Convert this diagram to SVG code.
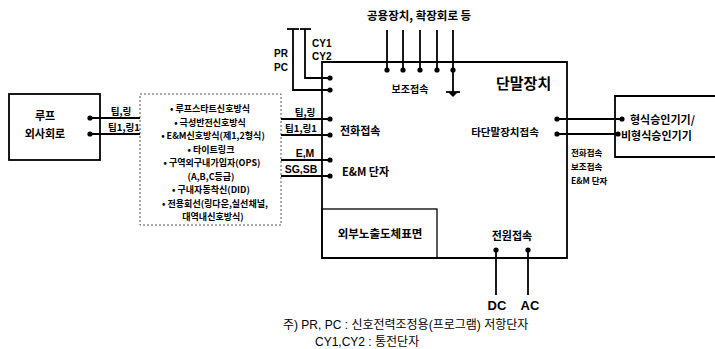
<svg xmlns="http://www.w3.org/2000/svg" width="715" height="349" viewBox="0 0 715 349">
<style>
.bg{fill:#fff}
.ln{fill:none;stroke:#000;stroke-width:1.8}
.thin{fill:none;stroke:#000;stroke-width:1.3}
.dash{fill:none;stroke:#555;stroke-width:1;stroke-dasharray:2 2}
.dot{fill:#000}
text{font-family:"Liberation Sans","Noto Sans CJK KR",sans-serif;fill:#000;dominant-baseline:central}
.k{font-family:"Noto Sans CJK KR","Liberation Sans",sans-serif;font-weight:700}
.b{font-weight:700}
.m{text-anchor:middle}
.li{font-size:9px}
</style>
<rect class="bg" x="0" y="0" width="715" height="349"/>

<g id="loop">
<rect class="ln" x="9" y="94" width="91" height="66" stroke-width="2"/>
<text class="k m" x="45" y="115" font-size="11">루프</text>
<text class="k m" x="45" y="133" font-size="11">외사회로</text>
</g>

<g id="signal-list">
<rect class="dash" x="140" y="94" width="141" height="131"/>
<text class="k m li" x="210" y="108.5">• 루프스타트신호방식</text>
<text class="k m li" x="210" y="122">• 극성반전신호방식</text>
<text class="k m li" x="213" y="135.5">• E&amp;M신호방식(제1,2형식)</text>
<text class="k m li" x="211" y="149">• 타이트링크</text>
<text class="k m li" x="212" y="162.5">• 구역외구내가입자(OPS)</text>
<text class="k m li" x="211" y="176">(A,B,C등급)</text>
<text class="k m li" x="211" y="189.5">• 구내자동착신(DID)</text>
<text class="k m li" x="215" y="203">• 전용회선(링다운,실선채널,</text>
<text class="k m li" x="213" y="216.5">대역내신호방식)</text>
</g>

<g id="terminal">
<path class="ln" d="M322,62 H567 V258 H322 Z" stroke-width="2"/>
<text class="k" x="496" y="82" font-size="15">단말장치</text>
<text class="k m" x="410" y="88" font-size="10">보조접속</text>
<text class="k" x="340" y="130" font-size="11">전화접속</text>
<text class="k" x="342" y="171" font-size="11">E&amp;M 단자</text>
<text class="k m" x="505" y="131" font-size="10.5">타단말장치접속</text>
<text class="k m" x="512" y="235" font-size="11">전원접속</text>
</g>

<g id="exposed-surface">
<rect class="thin" x="322" y="209" width="115" height="49"/>
<text class="k m" x="380" y="233" font-size="11.5">외부노출도체표면</text>
</g>

<g id="approved-equipment">
<path class="ln" d="M715,96 H615 V157 H715"/>
<text class="k" x="630" y="119" font-size="11">형식승인기기/</text>
<text class="k" x="621" y="135" font-size="11">비형식승인기기</text>
</g>

<g id="connectors">
<line class="ln" x1="90" y1="118" x2="140" y2="118"/>
<line class="ln" x1="90" y1="134" x2="140" y2="134"/>
<circle class="dot" cx="90" cy="118" r="2.6"/>
<circle class="dot" cx="90" cy="134" r="2.6"/>
<text class="k m" x="121" y="111" font-size="9.5">팁,링</text>
<text class="k m" x="124" y="127" font-size="9.5">팁1,링1</text>
<line class="ln" x1="281" y1="119" x2="330" y2="119"/>
<line class="ln" x1="281" y1="135" x2="330" y2="135"/>
<line class="ln" x1="281" y1="160" x2="330" y2="160"/>
<line class="ln" x1="281" y1="176" x2="330" y2="176"/>
<circle class="dot" cx="330" cy="119" r="2.6"/>
<circle class="dot" cx="330" cy="135" r="2.6"/>
<circle class="dot" cx="330" cy="160" r="2.6"/>
<circle class="dot" cx="330" cy="176" r="2.6"/>
<text class="k m" x="305" y="112" font-size="9.5">팁,링</text>
<text class="k m" x="301" y="128" font-size="9.5">팁1,링1</text>
<text class="b m" x="305" y="153" font-size="10.5">E,M</text>
<text class="b m" x="301" y="169" font-size="10.5">SG,SB</text>
<path class="ln" d="M293,29 V90 H330"/>
<path class="ln" d="M305,29 V78 H330"/>
<line class="ln" x1="287" y1="29" x2="299" y2="29"/>
<line class="ln" x1="300" y1="29" x2="311" y2="29"/>
<circle class="dot" cx="330" cy="90" r="2.6"/>
<circle class="dot" cx="330" cy="78" r="2.6"/>
<text class="b" x="288" y="53" font-size="10" text-anchor="end">PR</text>
<text class="b" x="288" y="67" font-size="10" text-anchor="end">PC</text>
<text class="b" x="312" y="43" font-size="10">CY1</text>
<text class="b" x="312" y="56" font-size="10">CY2</text>
<text class="k" x="367" y="15" font-size="11.5">공용장치, 확장회로 등</text>
<line class="ln" x1="387" y1="30" x2="387" y2="70"/>
<line class="ln" x1="403" y1="30" x2="403" y2="70"/>
<line class="ln" x1="420" y1="30" x2="420" y2="70"/>
<line class="ln" x1="437" y1="30" x2="437" y2="70"/>
<line class="ln" x1="453" y1="30" x2="453" y2="92"/>
<circle class="dot" cx="387" cy="70" r="2.6"/>
<circle class="dot" cx="403" cy="70" r="2.6"/>
<circle class="dot" cx="420" cy="70" r="2.6"/>
<circle class="dot" cx="437" cy="70" r="2.6"/>
<circle class="dot" cx="453" cy="70" r="2.6"/>
<line class="ln" x1="446" y1="92" x2="460" y2="92"/>
<path class="dot" d="M448,92 H458 L453,97 Z"/>
<line class="ln" x1="557" y1="119" x2="622" y2="119"/>
<line class="ln" x1="557" y1="134" x2="618" y2="134"/>
<circle class="dot" cx="557" cy="119" r="2.6"/>
<circle class="dot" cx="557" cy="134" r="2.6"/>
<circle class="dot" cx="622" cy="119" r="2.6"/>
<circle class="dot" cx="618" cy="134" r="2.6"/>
<text class="k" x="571" y="152" font-size="8.5">전화접속</text>
<text class="k" x="571" y="166" font-size="8.5">보조접속</text>
<text class="k" x="571" y="180" font-size="8.5">E&amp;M 단자</text>
<line class="ln" x1="496" y1="250" x2="496" y2="295"/>
<line class="ln" x1="528" y1="250" x2="528" y2="295"/>
<circle class="dot" cx="496" cy="250" r="2.6"/>
<circle class="dot" cx="528" cy="250" r="2.6"/>
<text class="b m" x="497" y="305" font-size="13">DC</text>
<text class="b m" x="530" y="305" font-size="13">AC</text>
</g>

<g id="note">
<text x="283" y="325" font-size="12">주)  PR, PC : 신호전력조정용(프로그램) 저항단자</text>
<text x="315" y="342" font-size="12">CY1,CY2 : 통전단자</text>
</g>
</svg>
